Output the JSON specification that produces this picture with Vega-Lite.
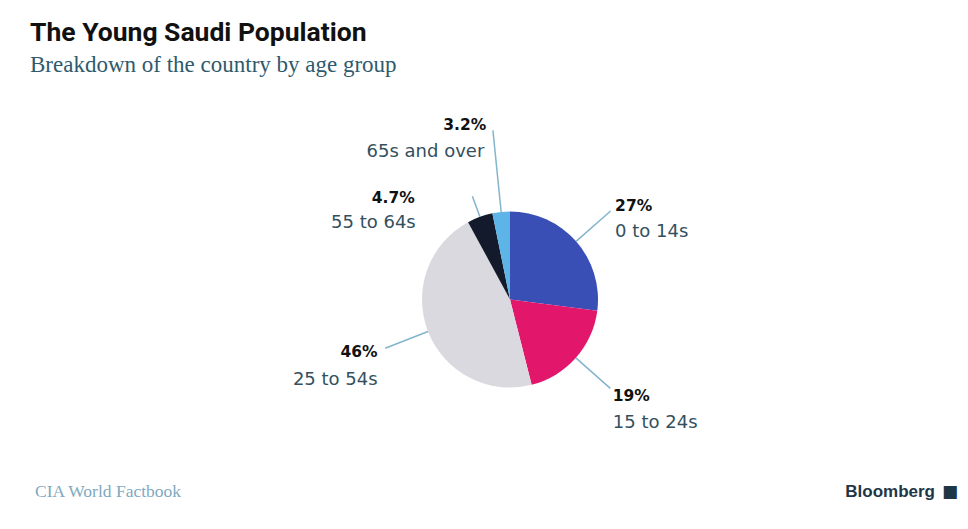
{
  "$schema": "https://vega.github.io/schema/vega-lite/v6.json",
  "width": 916,
  "height": 399,
  "autosize": "none",
  "padding": {"left": 52, "right": 0, "top": 100, "bottom": 30},
  "background": "white",
  "config": {"view": {"stroke": null}},
  "title": {
    "text": "The Young Saudi Population",
    "subtitle": "Breakdown of the country by age group",
    "anchor": "start",
    "dx": -5,
    "font": "Roboto",
    "fontSize": 26.5,
    "fontWeight": "bold",
    "color": "#111111",
    "subtitleFont": "Liberation Serif",
    "subtitleFontSize": 23,
    "subtitleColor": "#2e5a6c",
    "subtitlePadding": 8,
    "offset": 23
  },
  "datasets": {
    "ages": [
      {"age": "0 to 14s", "pct": 27, "label": "27%", "ord": 1},
      {"age": "15 to 24s", "pct": 19, "label": "19%", "ord": 2},
      {"age": "25 to 54s", "pct": 46, "label": "46%", "ord": 3},
      {"age": "55 to 64s", "pct": 4.7, "label": "4.7%", "ord": 4},
      {"age": "65s and over", "pct": 3.2, "label": "3.2%", "ord": 5}
    ]
  },
  "layer": [
    {
      "data": {"name": "ages"},
      "encoding": {
        "theta": {"field": "pct", "type": "quantitative", "stack": true},
        "order": {"field": "ord", "type": "quantitative"},
        "detail": {"field": "age", "type": "nominal"}
      },
      "layer": [
        {
          "mark": {"type": "arc", "radius": 88},
          "encoding": {
            "color": {
              "field": "age",
              "type": "nominal",
              "scale": {
                "domain": ["0 to 14s", "15 to 24s", "25 to 54s", "55 to 64s", "65s and over"],
                "range": ["#3a4fb6", "#e2176c", "#d9d9df", "#131a2b", "#5cb5e6"]
              },
              "legend": null
            }
          }
        },
        {
          "mark": {"type": "arc", "radius": 134, "radius2": 88, "padAngle": 3, "filled": false, "stroke": "#84b5cc", "strokeWidth": 1.5},
          "encoding": {"strokeOpacity": {"condition": {"test": "datum.ord <= 3", "value": 1}, "value": 0}}
        },
        {
          "mark": {"type": "arc", "radius": 110, "radius2": 88, "padAngle": 3, "filled": false, "stroke": "#84b5cc", "strokeWidth": 1.5},
          "encoding": {"strokeOpacity": {"condition": {"test": "datum.ord == 4", "value": 1}, "value": 0}}
        },
        {
          "mark": {"type": "arc", "radius": 170, "radius2": 88, "padAngle": 3, "filled": false, "stroke": "#84b5cc", "strokeWidth": 1.5},
          "encoding": {"strokeOpacity": {"condition": {"test": "datum.ord == 5", "value": 1}, "value": 0}}
        },
        {
          "mark": {"type": "text", "radius": 140, "align": "left", "baseline": "middle", "dx": 0, "dy": -1, "font": "DejaVu Sans", "fontWeight": "bold", "fontSize": 15.5, "fill": "#111111"},
          "encoding": {"text": {"condition": {"test": "datum.ord == 1", "field": "label", "type": "nominal"}, "value": ""}}
        },
        {
          "mark": {"type": "text", "radius": 140, "align": "left", "baseline": "middle", "dx": 0, "dy": 25, "font": "DejaVu Sans", "fontSize": 18, "fill": "#34505e"},
          "encoding": {"text": {"condition": {"test": "datum.ord == 1", "field": "age", "type": "nominal"}, "value": ""}}
        },
        {
          "mark": {"type": "text", "radius": 140, "align": "left", "baseline": "middle", "dx": -2, "dy": 4, "font": "DejaVu Sans", "fontWeight": "bold", "fontSize": 15.5, "fill": "#111111"},
          "encoding": {"text": {"condition": {"test": "datum.ord == 2", "field": "label", "type": "nominal"}, "value": ""}}
        },
        {
          "mark": {"type": "text", "radius": 140, "align": "left", "baseline": "middle", "dx": -2, "dy": 31, "font": "DejaVu Sans", "fontSize": 18, "fill": "#34505e"},
          "encoding": {"text": {"condition": {"test": "datum.ord == 2", "field": "age", "type": "nominal"}, "value": ""}}
        },
        {
          "mark": {"type": "text", "radius": 140, "align": "right", "baseline": "middle", "dx": -2, "dy": 2, "font": "DejaVu Sans", "fontWeight": "bold", "fontSize": 15.5, "fill": "#111111"},
          "encoding": {"text": {"condition": {"test": "datum.ord == 3", "field": "label", "type": "nominal"}, "value": ""}}
        },
        {
          "mark": {"type": "text", "radius": 140, "align": "right", "baseline": "middle", "dx": -2, "dy": 30, "font": "DejaVu Sans", "fontSize": 18, "fill": "#34505e"},
          "encoding": {"text": {"condition": {"test": "datum.ord == 3", "field": "age", "type": "nominal"}, "value": ""}}
        },
        {
          "mark": {"type": "text", "radius": 109, "align": "right", "baseline": "middle", "dx": -58, "dy": 1, "font": "DejaVu Sans", "fontWeight": "bold", "fontSize": 15.5, "fill": "#111111"},
          "encoding": {"text": {"condition": {"test": "datum.ord == 4", "field": "label", "type": "nominal"}, "value": ""}}
        },
        {
          "mark": {"type": "text", "radius": 109, "align": "right", "baseline": "middle", "dx": -57, "dy": 26, "font": "DejaVu Sans", "fontSize": 18, "fill": "#34505e"},
          "encoding": {"text": {"condition": {"test": "datum.ord == 4", "field": "age", "type": "nominal"}, "value": ""}}
        },
        {
          "mark": {"type": "text", "radius": 176, "align": "right", "baseline": "middle", "dx": -6, "dy": 1, "font": "DejaVu Sans", "fontWeight": "bold", "fontSize": 15.5, "fill": "#111111"},
          "encoding": {"text": {"condition": {"test": "datum.ord == 5", "field": "label", "type": "nominal"}, "value": ""}}
        },
        {
          "mark": {"type": "text", "radius": 176, "align": "right", "baseline": "middle", "dx": -8, "dy": 28, "font": "DejaVu Sans", "fontSize": 18, "fill": "#34505e"},
          "encoding": {"text": {"condition": {"test": "datum.ord == 5", "field": "age", "type": "nominal"}, "value": ""}}
        }
      ]
    },
    {
      "data": {"values": [{"t": "CIA World Factbook"}]},
      "mark": {"type": "text", "align": "left", "baseline": "alphabetic", "dx": -17, "dy": -2, "font": "Liberation Serif", "fontSize": 17.5, "fill": "#7fa9c0"},
      "encoding": {"x": {"value": 0}, "y": {"value": "height"}, "text": {"field": "t"}}
    },
    {
      "data": {"values": [{"t": "Bloomberg"}]},
      "mark": {"type": "text", "align": "right", "baseline": "alphabetic", "dx": -33, "dy": -2, "font": "Liberation Sans", "fontWeight": "bold", "fontSize": 17, "fill": "#1e3646"},
      "encoding": {"x": {"value": "width"}, "y": {"value": "height"}, "text": {"field": "t"}}
    },
    {
      "data": {"values": [{"t": "■"}]},
      "mark": {"type": "text", "align": "right", "baseline": "alphabetic", "dx": -10, "dy": -2, "font": "DejaVu Sans", "fontSize": 17, "fill": "#1e3646"},
      "encoding": {"x": {"value": "width"}, "y": {"value": "height"}, "text": {"field": "t"}}
    }
  ]
}
